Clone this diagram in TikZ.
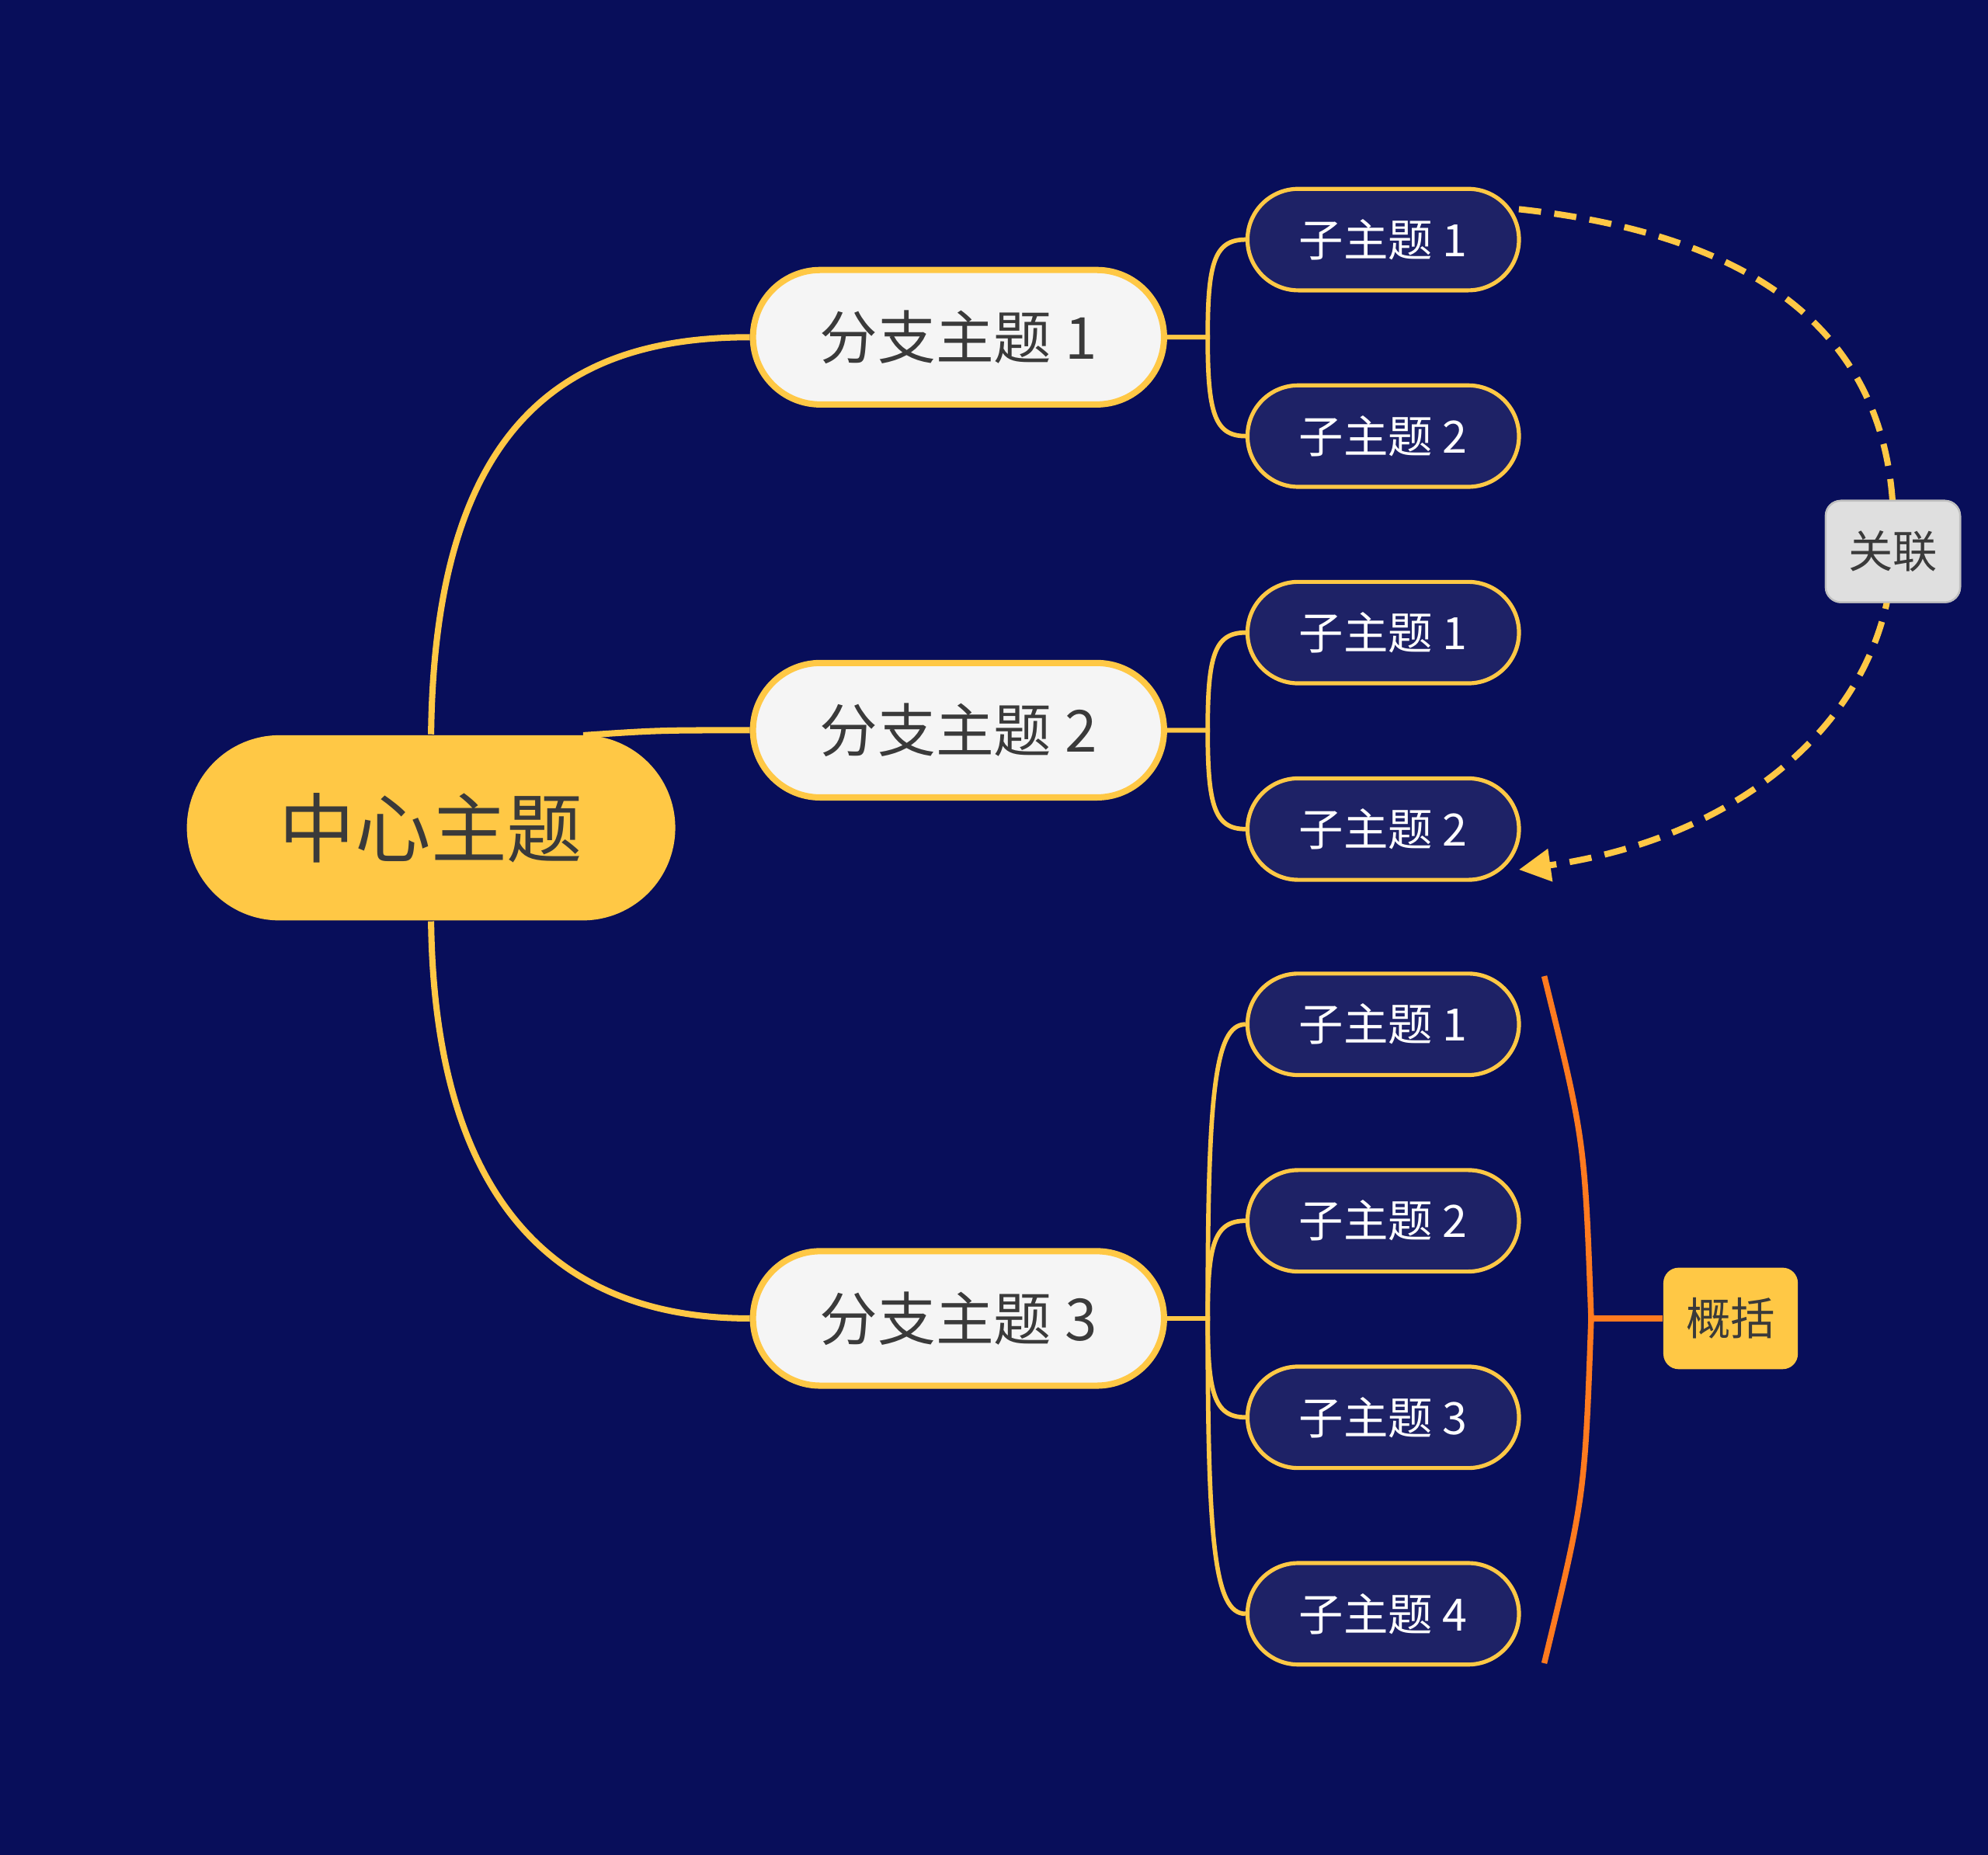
\documentclass[tikz,border=0pt]{standalone}
\usepackage{fontspec}
\setmainfont{Noto Sans CJK SC}
\usetikzlibrary{positioning, calc, arrows.meta}
\definecolor{bgblue}{HTML}{080E5A}
\definecolor{mindyellow}{HTML}{FFC845}
\definecolor{subblue}{HTML}{1E2266}
\definecolor{branchgrey}{HTML}{F5F5F5}
\definecolor{textgrey}{HTML}{3A3A3A}
\definecolor{sumorange}{HTML}{FF7A1F}
\begin{document}
\begin{tikzpicture}[
        x=0.01cm, y=-0.01cm,
        center/.style={rectangle, rounded corners=0.73cm, fill=mindyellow, minimum width=3.85cm, minimum height=1.46cm, text=textgrey, font=\fontsize{17}{20}\selectfont},
        branch/.style={rectangle, rounded corners=0.53cm, fill=branchgrey, draw=mindyellow, line width=1.4pt, minimum width=3.24cm, minimum height=1.06cm, text=textgrey, font=\fontsize{13}{16}\selectfont},
        sub/.style={rectangle, rounded corners=0.4cm, fill=subblue, draw=mindyellow, line width=0.9pt, minimum width=2.14cm, minimum height=0.8cm, text=white, font=\fontsize{10}{12}\selectfont},
        tag/.style={rectangle, rounded corners=0.12cm, minimum width=1.06cm, minimum height=0.8cm, text=textgrey, font=\fontsize{10}{12}\selectfont},
        link/.style={draw=mindyellow, line width=1.4pt},
        sublink/.style={draw=mindyellow, line width=1pt}
    ]
    \fill[bgblue] (0,0) rectangle (1568,1463);

    % Center
    \node[center] (C) at (340,653) {中心主题};

    % Branches
    \node[branch] (B1) at (756,266) {分支主题 1};
    \node[branch] (B2) at (756,576) {分支主题 2};
    \node[branch] (B3) at (756,1040) {分支主题 3};

    % Sub topics
    \node[sub] (S11) at (1091,189) {子主题 1};
    \node[sub] (S12) at (1091,344) {子主题 2};
    \node[sub] (S21) at (1091,499) {子主题 1};
    \node[sub] (S22) at (1091,654) {子主题 2};
    \node[sub] (S31) at (1091,808) {子主题 1};
    \node[sub] (S32) at (1091,963) {子主题 2};
    \node[sub] (S33) at (1091,1118) {子主题 3};
    \node[sub] (S34) at (1091,1273) {子主题 4};

    % Center to branches
    \coordinate (C2) at (460,580);
    \draw[link] (C.north) .. controls (343,330) and (450,266) .. (B1.west);
    \draw[link] (C2) .. controls (520,576) .. (B2.west);
    \draw[link] (C.south) .. controls (343,960) and (450,1040) .. (B3.west);

    % Branches to sub topics
    \foreach \b/\s in {B1/S11,B1/S12,B2/S21,B2/S22,B3/S31,B3/S32,B3/S33,B3/S34}
        \draw[sublink] (\b.east) -- ++(32,0) coordinate (j)
            .. controls ($(j)!0.75!(j|-\s.west)$) and ($(j|-\s.west)+(5,0)$) .. (\s.west);

    % Relation
    \node[tag, fill=gray!25, draw=gray!50] (R) at (1493,435) {关联};
    \coordinate (R1) at (1198,165);
    \coordinate (R2) at (1198,686);
    \draw[link, dash pattern=on 5pt off 3pt] (R1) .. controls (1430,190) and (1500,300) .. (R.center);
    \draw[link, dash pattern=on 5pt off 3pt, -{Triangle[length=0.25cm,width=0.25cm]}] (R.center) .. controls (1490,560) and (1380,660) .. (R2);
    \node[tag, fill=gray!25, draw=gray!50] at (R) {关联};

    % Summary
    \node[tag, fill=mindyellow] (G) at (1365,1040) {概括};
    \coordinate (G1) at (1218,770);
    \coordinate (G2) at (1218,1312);
    \coordinate (G3) at (1255,1040);
    \draw[sumorange, line width=1.3pt] (G1) .. controls (1250,900) .. (G3) .. controls (1250,1180) .. (G2);
    \draw[sumorange, line width=1.3pt] (G3) -- (G.west);
\end{tikzpicture}
\end{document}
